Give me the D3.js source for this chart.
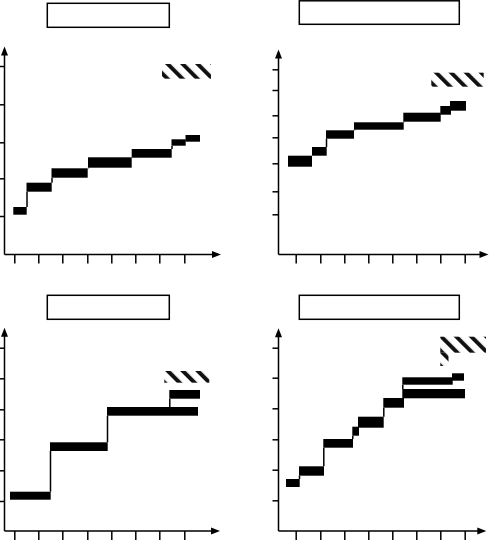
<!DOCTYPE html>
<html lang="en">

<head>
    <meta charset="UTF-8" />
    <script src="https://d3js.org/d3.v7.min.js"></script>
    <title>Step chart panels</title>
    <style>
        body {
            margin: 0;
            background: #fff;
        }

        .axis-line,
        .link {
            stroke: #000;
            stroke-width: 1.5;
            fill: none;
        }

        .tick line {
            stroke: #000;
            stroke-width: 1.5;
        }

        .title-box {
            fill: #fff;
            stroke: #000;
            stroke-width: 1.5;
        }
    </style>
</head>

<body>
    <svg id="chart" width="494" height="542"></svg>
    <script>
        // tick positions, measured from each panel's origin along the axis
        const xTicksLeft = [9.8, 33.8, 57.8, 82.8, 106.8, 130.8, 154.8, 179.8];
        const xTicksRight = [17.2, 41.8, 65.8, 89.8, 113.8, 137.8, 161.8, 186.2];
        const yTicksA = [38.5, 76.2, 112.2, 150.2, 188.5];
        const yTicksB = [40.2, 63.2, 91.2, 117.2, 139.2, 164.5, 185.2];
        const yTicksC = [30, 60.7, 91.7, 121.7, 152.7, 183.3];
        const yTicksD = [30.7, 61.3, 91.7, 122.7, 153.3, 183.3];

        // bars: [xStart, xEnd, yLow, yHigh]
        const barsA = [
            [8.8, 22.2, 39.8, 47.5],
            [22.0, 47.2, 62.8, 71.8],
            [47.0, 83.2, 76.8, 86.2],
            [83.5, 127.2, 86.8, 97.2],
            [127.2, 167.2, 96.8, 105.5],
            [167.0, 181.2, 108.8, 115.2],
            [181.0, 195.5, 112.8, 119.5]
        ];
        const barsB = [
            [9.5, 33.5, 87.8, 98.8],
            [33.5, 48.2, 98.8, 107.5],
            [47.5, 75.5, 115.8, 124.2],
            [75.5, 125.2, 124.8, 132.2],
            [124.8, 162.2, 132.8, 141.8],
            [161.8, 172.5, 139.8, 148.5],
            [171.5, 187.5, 143.8, 153.5]
        ];
        const barsC = [
            [5.5, 46.2, 31.3, 39.3],
            [45.5, 103.2, 80.0, 88.7],
            [102.5, 193.5, 115.3, 124.0],
            [164.8, 195.5, 132.3, 141.0]
        ];
        const barsD = [
            [7.5, 21.2, 44.0, 52.0],
            [20.5, 45.5, 55.3, 64.7],
            [44.8, 74.5, 83.3, 92.0],
            [73.8, 80.5, 95.3, 104.3],
            [79.5, 105.2, 103.3, 114.3],
            [104.8, 125.5, 123.3, 133.0],
            [123.8, 186.5, 132.7, 142.0],
            [123.8, 174.2, 146.3, 153.7],
            [173.5, 185.5, 150.3, 157.7]
        ];

        // hatched swatches: [xStart, xEnd, yLow, yHigh]
        const swatchA = [[157.5, 206.5, 175.8, 190.5]];
        const swatchB = [[152.8, 205.2, 167.8, 181.8]];
        const swatchC = [[159.8, 204.8, 148.3, 160.0]];
        const swatchD = [[161.8, 207.5, 178.3, 194.3], [161.8, 170.0, 165.0, 178.3]];

        const svg = d3.select("#chart");
        const defs = svg.append("defs");

        const panels = [
            { ox: 4.5, oy: 254.5, xLen: 216.5, yLen: 208, title: [47.3, 3.3, 122, 24], xTicks: xTicksLeft, yTicks: yTicksA, bars: barsA, swatch: swatchA, phase: 11 },
            { ox: 278.5, oy: 254.5, xLen: 210, yLen: 205, title: [299.3, 0.8, 160, 23.5], xTicks: xTicksRight, yTicks: yTicksB, bars: barsB, swatch: swatchB, phase: 1 },
            { ox: 4.5, oy: 531, xLen: 215.5, yLen: 203.3, title: [47.3, 295.3, 122, 24], xTicks: xTicksLeft, yTicks: yTicksC, bars: barsC, swatch: swatchC, phase: 4 },
            { ox: 278.5, oy: 531, xLen: 207.8, yLen: 202.7, title: [299.3, 295.3, 160, 24], xTicks: xTicksRight, yTicks: yTicksD, bars: barsD, swatch: swatchD, phase: 12 }
        ];

        panels.forEach((p, i) => drawPanel(p, i));

        function drawPanel(p, i) {
            const g = svg.append("g");
            const x = d3.scaleLinear().domain([0, p.xLen]).range([p.ox, p.ox + p.xLen]);
            const y = d3.scaleLinear().domain([0, p.yLen]).range([p.oy, p.oy - p.yLen]);

            // diagonal hatch, one per panel so the stripes line up like the original
            defs.append("pattern")
                .attr("id", "hatch" + i)
                .attr("patternUnits", "userSpaceOnUse")
                .attr("width", 10.6)
                .attr("height", 10.6)
                .attr("patternTransform", `translate(${p.phase},0) rotate(-45)`)
                .append("rect")
                .attr("width", 4)
                .attr("height", 10.6)
                .attr("fill", "#111");

            // empty title box
            g.append("rect")
                .attr("class", "title-box")
                .attr("x", p.title[0])
                .attr("y", p.title[1])
                .attr("width", p.title[2])
                .attr("height", p.title[3]);

            // ticks only, the axis lines are drawn below with arrows
            const xAxis = g.append("g")
                .attr("transform", `translate(0,${p.oy})`)
                .call(d3.axisBottom(x).tickValues(p.xTicks).tickSize(9).tickSizeOuter(0).tickFormat(""));
            xAxis.select(".domain").remove();

            const yAxis = g.append("g")
                .attr("transform", `translate(${p.ox},0)`)
                .call(d3.axisLeft(y).tickValues(p.yTicks).tickSize(6).tickSizeOuter(0).tickFormat(""));
            yAxis.select(".domain").remove();

            g.append("path")
                .attr("class", "axis-line")
                .attr("d", `M${x(0)},${y(0)}H${x(p.xLen) - 4}M${x(0)},${y(0)}V${y(p.yLen) + 4}`);

            // arrowheads
            const xt = x(p.xLen), yt = y(p.yLen);
            g.append("path")
                .attr("d", `M${xt},${p.oy}L${xt - 9},${p.oy - 3.5}L${xt - 9},${p.oy + 3.5}Z`)
                .attr("fill", "#000");
            g.append("path")
                .attr("d", `M${p.ox},${yt}L${p.ox - 3.5},${yt + 9}L${p.ox + 3.5},${yt + 9}Z`)
                .attr("fill", "#000");

            // step links between consecutive bars
            g.selectAll("line.link")
                .data(p.bars.slice(1).map((b, k) => [b, p.bars[k]]).filter(([b, prev]) => b[2] > prev[3]))
                .join("line")
                .attr("class", "link")
                .attr("x1", d => x(d[0][0]) + 0.5)
                .attr("x2", d => x(d[0][0]) + 0.5)
                .attr("y1", d => y(d[1][3]))
                .attr("y2", d => y(d[0][2]));

            g.selectAll("rect.bar")
                .data(p.bars)
                .join("rect")
                .attr("class", "bar")
                .attr("x", d => x(d[0]))
                .attr("width", d => x(d[1]) - x(d[0]))
                .attr("y", d => y(d[3]))
                .attr("height", d => y(d[2]) - y(d[3]))
                .attr("fill", "#000");

            g.selectAll("rect.swatch")
                .data(p.swatch)
                .join("rect")
                .attr("class", "swatch")
                .attr("x", d => x(d[0]))
                .attr("width", d => x(d[1]) - x(d[0]))
                .attr("y", d => y(d[3]))
                .attr("height", d => y(d[2]) - y(d[3]))
                .attr("fill", `url(#hatch${i})`);
        }
    </script>
</body>

</html>
